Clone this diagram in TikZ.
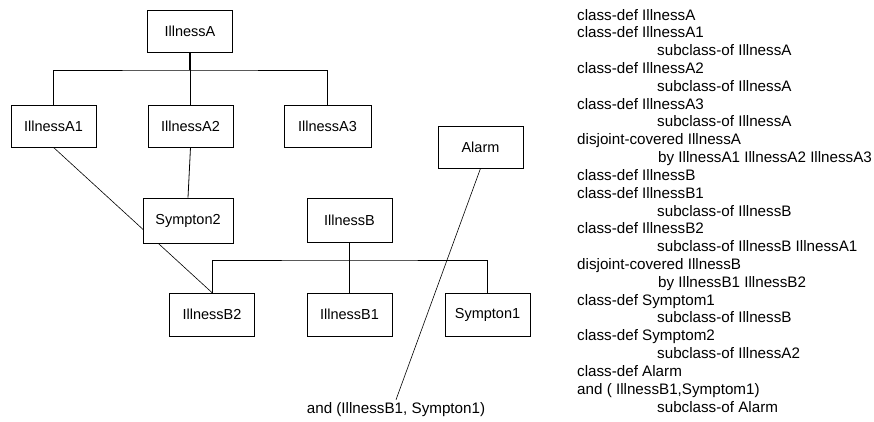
\documentclass[tikz,border=0pt]{standalone}
\usepackage{fontspec}
\setmainfont{Liberation Sans}
\usetikzlibrary{backgrounds}
\begin{document}
\begin{tikzpicture}[x=1pt,y=-1pt,
  box/.style={draw, line width=0.8pt, fill=white, minimum width=85pt, minimum height=42pt, inner sep=0pt, font=\fontsize{14.5}{17}\selectfont},
  link/.style={line width=0.8pt},
  stem/.style={line width=1.8pt},
  thinlink/.style={line width=0.6pt},
  lst/.style={anchor=base west, inner sep=0pt, font=\fontsize{15.2}{18}\selectfont},
  lbl/.style={inner sep=3pt, font=\fontsize{15.2}{18}\selectfont}]
\useasboundingbox (0,0) rectangle (874,421);
% nodes
\node[box] (A) at (190,31) {IllnessA};
\node[box] (A1) at (53.5,126) {IllnessA1};
\node[box] (A2) at (190.5,126) {IllnessA2};
\node[box, minimum width=87pt] (A3) at (327.5,126) {IllnessA3};
\node[box] (Al) at (480.5,147) {Alarm};
\node[box, minimum width=90pt, minimum height=45pt] (S2) at (188,220.5) {Sympton2};
\node[box, minimum height=44pt] (B) at (349.5,220) {IllnessB};
\node[box, minimum height=43pt] (B2) at (212,314.5) {IllnessB2};
\node[box, minimum height=43pt] (B1) at (349.5,314.5) {IllnessB1};
\node[box, minimum height=43pt] (S1) at (487.5,314.5) {Sympton1};
\node[lbl] (andl) at (396,410) {and (IllnessB1, Sympton1)};
% connectors
\begin{pgfonlayer}{background}
\coordinate (ja) at (190,70);
\draw[stem] (A.south) -- (ja);
\draw[link] (A1.north) |- (ja) -| (A3.north);
\draw[link] (ja) -- (ja |- A2.north);
\coordinate (jb) at (349.5,260);
\draw[stem] (B.south) -- (jb);
\draw[link] (B2.north) |- (jb) -| (S1.north);
\draw[link] (jb) -- (B1.north);
\draw[link] (A2.south) -- (S2.north);
\draw[thinlink] (A1.south) -- (B2.north);
\draw[thinlink] (Al.south) -- (andl.north);
\end{pgfonlayer}
% listing
\foreach \i/\ind/\t in {
  1/0/{class-def IllnessA},
  2/0/{class-def IllnessA1},
  3/80/{subclass-of IllnessA},
  4/0/{class-def IllnessA2},
  5/80/{subclass-of IllnessA},
  6/0/{class-def IllnessA3},
  7/80/{subclass-of IllnessA},
  8/0/{disjoint-covered IllnessA},
  9/81/{by IllnessA1 IllnessA2 IllnessA3},
  10/0/{class-def IllnessB},
  11/0/{class-def IllnessB1},
  12/80/{subclass-of IllnessB},
  13/0/{class-def IllnessB2},
  14/80/{subclass-of IllnessB IllnessA1},
  15/0/{disjoint-covered IllnessB},
  16/81/{by IllnessB1 IllnessB2},
  17/0/{class-def Symptom1},
  18/80/{subclass-of IllnessB},
  19/0/{class-def Symptom2},
  20/80/{subclass-of IllnessA2},
  21/0/{class-def Alarm},
  22/0/{and ( IllnessB1,Symptom1)},
  23/80/{subclass-of Alarm}}
  \node[lst] (l\i) at ({577+\ind},{20+(\i-1)*17.82}) {\t};
\end{tikzpicture}
\end{document}
